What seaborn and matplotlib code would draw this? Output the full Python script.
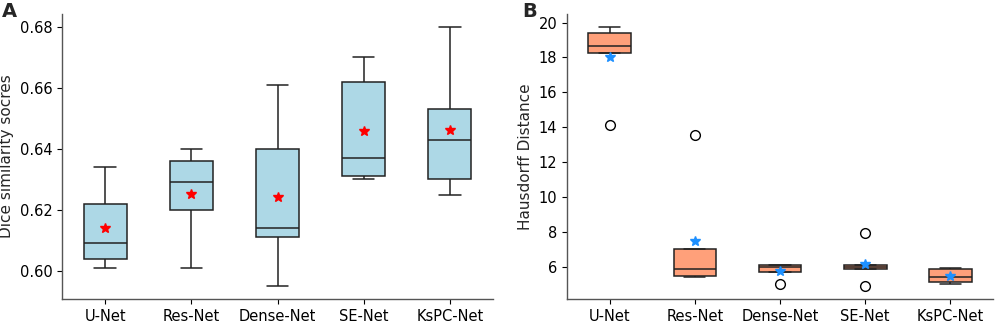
import numpy as np
import pandas as pd
import seaborn as sns
import matplotlib.pyplot as plt

# five-fold results per model
models = ["U-Net", "Res-Net", "Dense-Net", "SE-Net", "KsPC-Net"]

dice_unet = [0.601, 0.604, 0.609, 0.622, 0.634]
dice_resnet = [0.601, 0.620, 0.629, 0.636, 0.640]
dice_densenet = [0.595, 0.611, 0.614, 0.640, 0.661]
dice_senet = [0.630, 0.631, 0.637, 0.662, 0.670]
dice_kspcnet = [0.625, 0.630, 0.643, 0.653, 0.680]

hd_unet = [14.15, 18.25, 18.67, 19.41, 19.75]
hd_resnet = [5.41, 5.49, 5.85, 7.03, 13.56]
hd_densenet = [5.01, 5.70, 6.02, 6.08, 6.08]
hd_senet = [4.90, 5.85, 5.98, 6.10, 7.93]
hd_kspcnet = [5.01, 5.11, 5.41, 5.87, 5.94]

dice = [dice_unet, dice_resnet, dice_densenet, dice_senet, dice_kspcnet]
hd = [hd_unet, hd_resnet, hd_densenet, hd_senet, hd_kspcnet]

df_dice = pd.DataFrame({"model": np.repeat(models, 5), "value": np.concatenate(dice)})
df_hd = pd.DataFrame({"model": np.repeat(models, 5), "value": np.concatenate(hd)})

sns.set_style("ticks")
plt.rcParams["font.family"] = ["DejaVu Sans"]

W, H = 1002, 323
fig, axes = plt.subplots(1, 2, figsize=(W / 100, H / 100), dpi=100)
axes[0].set_position([62 / W, 24 / H, 431 / W, 285 / H])
axes[1].set_position([567 / W, 24 / H, 426 / W, 285 / H])

flier = dict(marker="o", markerfacecolor="white", markeredgecolor="black", markersize=7)

sns.boxplot(data=df_dice, x="model", y="value", ax=axes[0], color="lightblue",
            saturation=1, width=0.5, linecolor="#222222", linewidth=1.1,
            showmeans=True, flierprops=flier,
            meanprops=dict(marker="*", markerfacecolor="red", markeredgecolor="red", markersize=7.5))
sns.boxplot(data=df_hd, x="model", y="value", ax=axes[1], color="lightsalmon",
            saturation=1, width=0.5, linecolor="#222222", linewidth=1.1,
            showmeans=True, flierprops=flier,
            meanprops=dict(marker="*", markerfacecolor="#1e90ff", markeredgecolor="#1e90ff", markersize=7.5))

axes[0].set_ylabel("Dice similarity socres", fontsize=11)
axes[1].set_ylabel("Hausdorff Distance", fontsize=11)
axes[0].set_yticks([0.60, 0.62, 0.64, 0.66, 0.68])
axes[1].set_yticks([6, 8, 10, 12, 14, 16, 18, 20])

for ax in axes:
    ax.set_xlabel("")
    ax.tick_params(labelsize=10.5, colors="black", width=0.8, length=3.5)
    for s in ["left", "bottom"]:
        ax.spines[s].set_color("#555555")
        ax.spines[s].set_linewidth(1.0)
    sns.despine(ax=ax)

fig.text(0.002, 0.995, "A", fontsize=14, fontweight="bold", va="top")
fig.text(0.521, 0.995, "B", fontsize=14, fontweight="bold", va="top")

fig.savefig("out.png", dpi=100)
